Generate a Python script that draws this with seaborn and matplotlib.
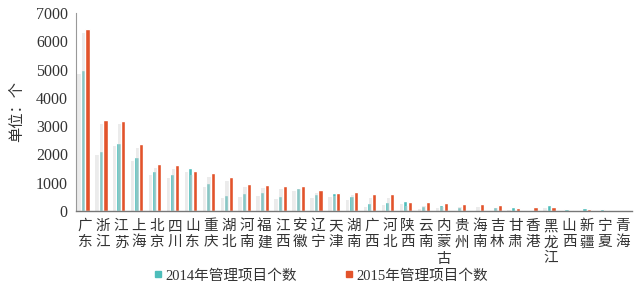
import matplotlib
matplotlib.use("Agg")
import matplotlib.pyplot as plt
import matplotlib.patheffects as pe
from matplotlib.lines import Line2D
import seaborn as sns
import pandas as pd

provinces = ["广东", "浙江", "江苏", "上海", "北京", "四川", "山东", "重庆", "湖北", "河南",
             "福建", "江西", "安徽", "辽宁", "天津", "湖南", "广西", "河北", "陕西", "云南",
             "内蒙古", "贵州", "海南", "吉林", "甘肃", "香港", "黑龙江", "山西", "新疆", "宁夏", "青海"]
v2014 = [4980, 2100, 2400, 1900, 1400, 1300, 1500, 980, 565, 625,
         650, 530, 810, 590, 625, 510, 270, 320, 350, 180,
         210, 120, 35, 120, 150, 10, 210, 60, 100, 60, 30]
v2015 = [6430, 3200, 3180, 2350, 1650, 1620, 1400, 1330, 1190, 950,
         920, 880, 880, 750, 640, 670, 580, 580, 305, 305,
         270, 250, 250, 210, 95, 120, 120, 40, 50, 20, 10]
series = ["2014年管理项目个数", "2015年管理项目个数"]
yticks = [0, 1000, 2000, 3000, 4000, 5000, 6000, 7000]

teal = "#4DBDBA"
orange = "#E2532B"

df = pd.DataFrame({
    "省份": provinces * 2,
    "数量": v2014 + v2015,
    "年份": [series[0]] * len(provinces) + [series[1]] * len(provinces),
})

sns.set_style("white")
cjk = ["Noto Sans CJK SC", "DejaVu Sans"]
plt.rcParams["font.family"] = cjk

fig = plt.figure(figsize=(6.4, 2.9), dpi=100)
ax = fig.add_axes([0.119, 0.273, 0.868, 0.682])

sns.barplot(data=df, x="省份", y="数量", hue="年份",
            palette=[teal, orange], width=0.54, gap=0.15, ax=ax, legend=False,
            saturation=1)

shadow = [pe.SimplePatchShadow(offset=(-2.5, -2.5), shadow_rgbFace="#d4d4d4", alpha=0.45), pe.Normal()]
for p in ax.patches:
    p.set_path_effects(shadow)

ax.set_xlim(-0.5, len(provinces) - 0.5)
ax.set_ylim(0, 7000)
ax.set_yticks(yticks)
ax.set_yticklabels([str(t) for t in yticks], family=["Liberation Serif", "DejaVu Serif"],
                   fontsize=11.5, color="#333333")

ax.set_xticks(range(len(provinces)))
ax.set_xticklabels(["\n".join(p) for p in provinces], fontsize=10.5, color="#333333",
                   linespacing=1.2, va="top")
ax.set_xticks([i + 0.5 for i in range(-1, len(provinces))], minor=True)
ax.tick_params(axis="x", which="major", length=0, pad=6)
ax.tick_params(axis="x", which="minor", length=3, direction="in", color="#555555", width=0.8)
ax.tick_params(axis="y", length=3, direction="in", color="#888888", width=0.8, pad=6)

ax.set_xlabel("")
ax.set_ylabel("单位：个", fontsize=11, color="#333333", labelpad=8)

for s in ["top", "right"]:
    ax.spines[s].set_visible(False)
ax.spines["left"].set_color("#999999")
ax.spines["bottom"].set_color("#777777")
ax.spines["left"].set_linewidth(0.8)
ax.spines["bottom"].set_linewidth(1.0)

handles = [Line2D([0], [0], marker="s", linestyle="", markersize=4, color=teal),
           Line2D([0], [0], marker="s", linestyle="", markersize=4, color=orange)]
fig.legend(handles, series, loc="center", bbox_to_anchor=(0.5, 0.05), ncol=2, frameon=False,
           prop={"family": ["Liberation Serif", "Noto Sans CJK SC"], "size": 10.5},
           labelcolor="#333333", handletextpad=0.1, columnspacing=3.2, handlelength=0.8)

fig.savefig("out.png", dpi=100)
